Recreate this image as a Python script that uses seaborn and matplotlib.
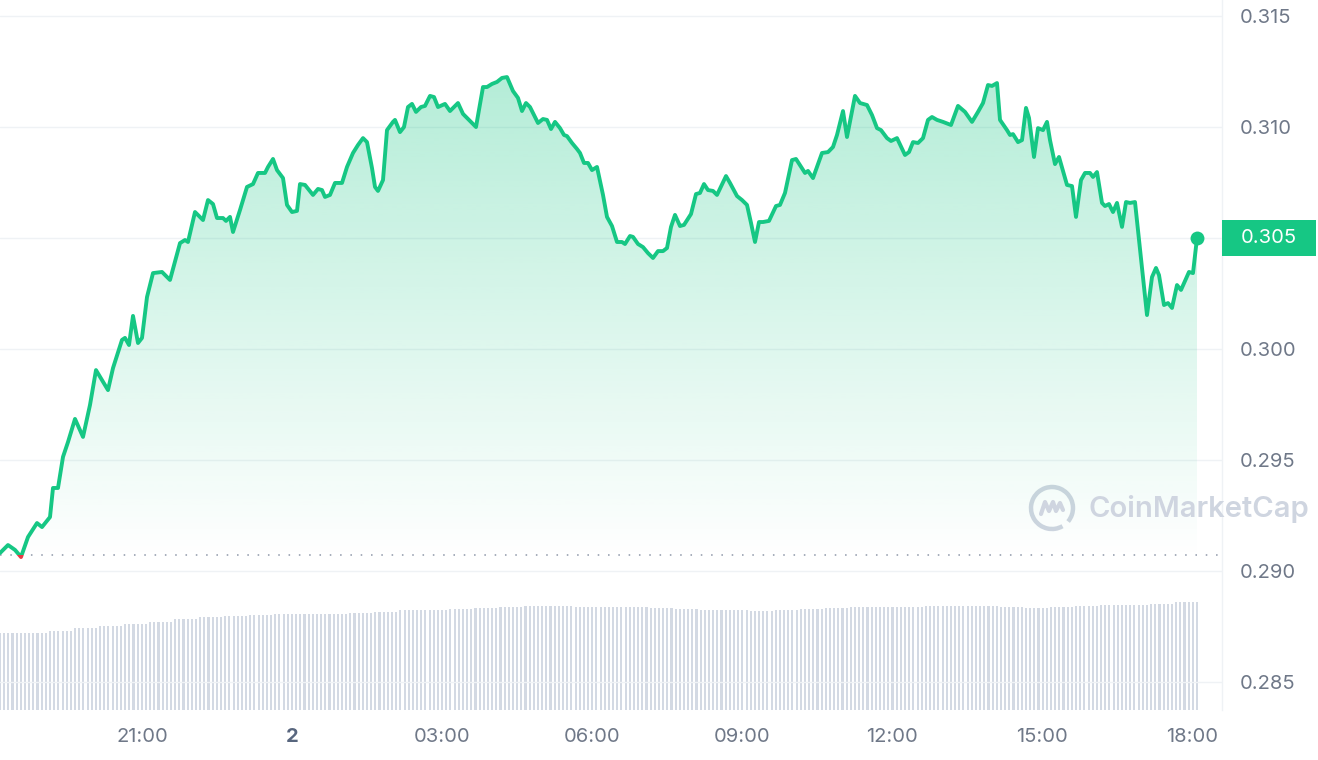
import numpy as np
import matplotlib
matplotlib.use("Agg")
import matplotlib.pyplot as plt
import matplotlib.transforms as mtransforms
from matplotlib.patches import Rectangle, Arc
import seaborn as sns

# ---------------- data ----------------
# time in hours relative to 00:00 on day "2"
times = [
    -5.84, -5.68, -5.54, -5.42, -5.28, -5.10, -5.00, -4.84, -4.78, -4.68,
    -4.58, -4.48, -4.34, -4.18, -4.04, -3.92, -3.68, -3.58, -3.40, -3.34,
    -3.26, -3.18, -3.08, -3.00, -2.90, -2.78, -2.60, -2.44, -2.24, -2.14,
    -2.08, -1.94, -1.78, -1.68, -1.58, -1.50, -1.38, -1.32, -1.24, -1.18,
    -1.04, -0.90, -0.78, -0.68, -0.54, -0.48, -0.38, -0.30, -0.18, -0.10,
    0.00, 0.10, 0.16, 0.26, 0.42, 0.52, 0.60, 0.66, 0.76, 0.86,
    1.00, 1.10, 1.22, 1.32, 1.42, 1.50, 1.60, 1.66, 1.72, 1.82,
    1.90, 2.02, 2.06, 2.16, 2.24, 2.32, 2.40, 2.48, 2.58, 2.66,
    2.76, 2.84, 2.92, 3.06, 3.16, 3.32, 3.42, 3.56, 3.68, 3.82,
    3.90, 4.00, 4.10, 4.20, 4.30, 4.42, 4.52, 4.60, 4.68, 4.76,
    4.92, 5.02, 5.10, 5.18, 5.26, 5.36, 5.44, 5.50, 5.60, 5.70,
    5.76, 5.84, 5.92, 6.00, 6.10, 6.22, 6.30, 6.40, 6.50, 6.60,
    6.66, 6.76, 6.82, 6.92, 7.02, 7.12, 7.22, 7.32, 7.42, 7.50,
    7.58, 7.66, 7.76, 7.84, 7.98, 8.08, 8.16, 8.24, 8.32, 8.42,
    8.50, 8.68, 8.76, 8.90, 9.00, 9.10, 9.18, 9.26, 9.34, 9.42,
    9.54, 9.68, 9.76, 9.86, 10.00, 10.08, 10.26, 10.32, 10.42, 10.60,
    10.72, 10.82, 10.90, 11.02, 11.10, 11.26, 11.36, 11.50, 11.60, 11.70,
    11.78, 11.90, 11.98, 12.10, 12.26, 12.34, 12.42, 12.52, 12.62, 12.72,
    12.80, 12.90, 13.02, 13.18, 13.32, 13.46, 13.60, 13.72, 13.82, 13.92,
    14.00, 14.10, 14.16, 14.30, 14.36, 14.42, 14.52, 14.60, 14.68, 14.74,
    14.84, 14.92, 15.02, 15.10, 15.16, 15.26, 15.34, 15.50, 15.60, 15.68,
    15.78, 15.86, 15.96, 16.02, 16.10, 16.20, 16.26, 16.34, 16.42, 16.50,
    16.60, 16.68, 16.76, 16.86, 17.10, 17.20, 17.28, 17.34, 17.44, 17.52,
    17.60, 17.70, 17.78, 17.94, 18.02, 18.10,
]
prices = [
    0.29081, 0.29117, 0.29095, 0.29063, 0.29153, 0.29216, 0.29198, 0.29243, 0.29374, 0.29374,
    0.29514, 0.29581, 0.29685, 0.29604, 0.29748, 0.29905, 0.29815, 0.29914, 0.30041, 0.30050,
    0.30018, 0.30149, 0.30027, 0.30050, 0.30234, 0.30342, 0.30347, 0.30311, 0.30477, 0.30491,
    0.30482, 0.30617, 0.30581, 0.30671, 0.30653, 0.30590, 0.30590, 0.30577, 0.30595, 0.30527,
    0.30626, 0.30730, 0.30743, 0.30793, 0.30793, 0.30820, 0.30856, 0.30806, 0.30770, 0.30649,
    0.30617, 0.30622, 0.30743, 0.30739, 0.30694, 0.30721, 0.30716, 0.30685, 0.30694, 0.30748,
    0.30748, 0.30820, 0.30883, 0.30919, 0.30950, 0.30932, 0.30815, 0.30730, 0.30712, 0.30761,
    0.30986, 0.31023, 0.31032, 0.30977, 0.31000, 0.31090, 0.31104, 0.31068, 0.31090, 0.31095,
    0.31140, 0.31135, 0.31090, 0.31104, 0.31072, 0.31108, 0.31059, 0.31027, 0.31000, 0.31180,
    0.31180, 0.31194, 0.31203, 0.31221, 0.31225, 0.31162, 0.31131, 0.31072, 0.31108, 0.31090,
    0.31018, 0.31036, 0.31032, 0.30991, 0.31023, 0.30995, 0.30964, 0.30959, 0.30928, 0.30901,
    0.30883, 0.30838, 0.30838, 0.30806, 0.30820, 0.30694, 0.30595, 0.30554, 0.30482, 0.30482,
    0.30473, 0.30509, 0.30505, 0.30473, 0.30459, 0.30432, 0.30410, 0.30441, 0.30441, 0.30455,
    0.30550, 0.30604, 0.30554, 0.30559, 0.30608, 0.30698, 0.30703, 0.30743, 0.30716, 0.30712,
    0.30694, 0.30779, 0.30748, 0.30689, 0.30671, 0.30649, 0.30568, 0.30482, 0.30572, 0.30572,
    0.30577, 0.30644, 0.30649, 0.30703, 0.30851, 0.30856, 0.30793, 0.30802, 0.30770, 0.30883,
    0.30887, 0.30910, 0.30964, 0.31072, 0.30955, 0.31140, 0.31108, 0.31099, 0.31054, 0.30995,
    0.30986, 0.30950, 0.30937, 0.30950, 0.30874, 0.30887, 0.30932, 0.30928, 0.30950, 0.31032,
    0.31045, 0.31032, 0.31023, 0.31009, 0.31095, 0.31068, 0.31023, 0.31068, 0.31108, 0.31189,
    0.31185, 0.31198, 0.31032, 0.30986, 0.30964, 0.30968, 0.30932, 0.30941, 0.31086, 0.31041,
    0.30865, 0.30995, 0.30986, 0.31023, 0.30941, 0.30833, 0.30865, 0.30739, 0.30734, 0.30595,
    0.30761, 0.30793, 0.30793, 0.30775, 0.30797, 0.30658, 0.30644, 0.30653, 0.30617, 0.30658,
    0.30550, 0.30662, 0.30658, 0.30662, 0.30153, 0.30324, 0.30365, 0.30333, 0.30198, 0.30207,
    0.30185, 0.30288, 0.30266, 0.30347, 0.30342, 0.30500,
]
open_price = 0.29072
last_price_label = "0.305"

# 24h volume (millions), one value per 30 minutes (each covers six 5-minute bars)
volume_30min = [
    154, 154, 158, 164, 168, 172, 176, 182, 186, 188, 190, 192,
    192, 192, 194, 196, 200, 200, 202, 204, 206, 208, 208, 206,
    206, 206, 204, 202, 200, 200, 198, 200, 202, 204, 206, 206,
    206, 208, 208, 208, 206, 204, 206, 208, 210, 210, 212, 216,
]

y_ticks = [0.285, 0.290, 0.295, 0.300, 0.305, 0.310, 0.315]
y_tick_labels = ["0.285", "0.290", "0.295", "0.300", "", "0.310", "0.315"]
x_ticks = [-3, 0, 3, 6, 9, 12, 15, 18]
x_tick_labels = ["21:00", "2", "03:00", "06:00", "09:00", "12:00", "15:00", "18:00"]

# ---------------- style ----------------
GREEN = "#16c784"
RED = "#ea3943"
GRID = "#eff2f5"
LABEL = "#6f7888"
VOL = "#d3d9e3"

sns.set_theme(style="white")
plt.rcParams["font.family"] = ["Inter", "DejaVu Sans"]

W, H, DPI = 1318, 760, 100
fig = plt.figure(figsize=(W / DPI, H / DPI), dpi=DPI)
fig.patch.set_facecolor("white")

ax_left, ax_right = 0.0, 1222 / W
ax_bottom, ax_top = 1 - 710 / H, 1.0
pos = [ax_left, ax_bottom, ax_right - ax_left, ax_top - ax_bottom]

xlim = (-5.84, 18.60)
ylim = (0.283739, 0.315721)

# volume axes (behind)
axv = fig.add_axes(pos, zorder=0)
n_bars = len(volume_30min) * 6
bar_t = np.linspace(times[0], times[-1], n_bars)
bar_v = np.repeat(volume_30min, 6)
axv.bar(bar_t, bar_v, width=0.042, color=VOL, linewidth=0, align="center")
axv.set_xlim(*xlim)
axv.set_ylim(0, 1420)
axv.axis("off")

# price axes
ax = fig.add_axes(pos, zorder=1)
ax.patch.set_alpha(0)
ax.set_xlim(*xlim)
ax.set_ylim(*ylim)

# grid lines
for yv in y_ticks:
    ax.axhline(yv, color=GRID, lw=1.0, zorder=0.5)

t = np.asarray(times)
p = np.asarray(prices)

# gradient fill under the line
poly = ax.fill_between(t, p, open_price - 0.0002, color="none", lw=0)
g_lo, g_hi = open_price - 0.0002, max(prices)
alpha = np.linspace(0.0, 0.32, 256)
rgba = np.zeros((256, 1, 4))
rgba[..., :3] = matplotlib.colors.to_rgb(GREEN)
rgba[:, 0, 3] = alpha
im = ax.imshow(rgba, extent=[t[0], t[-1], g_lo, g_hi], origin="lower",
               aspect="auto", zorder=1, interpolation="bilinear")
im.set_clip_path(poly.get_paths()[0], transform=ax.transData)
ax.set_xlim(*xlim)
ax.set_ylim(*ylim)

# dotted open-price line
ax.axhline(open_price, color="#a6adbb", lw=1.4, linestyle=(0, (0.8, 4.5)), zorder=1.5)

# price line: green above open, red below
sns.lineplot(x=t, y=p, ax=ax, sort=False, estimator=None, color=GREEN, linewidth=2.8, zorder=3)
green_line = ax.lines[-1]
green_line.set_solid_capstyle("round")
green_line.set_solid_joinstyle("round")
clip_up = Rectangle((xlim[0], open_price), xlim[1] - xlim[0], ylim[1] - open_price,
                    transform=ax.transData)
green_line.set_clip_path(clip_up)

sns.lineplot(x=t, y=p, ax=ax, sort=False, estimator=None, color=RED, linewidth=2.8, zorder=3)
red_line = ax.lines[-1]
clip_dn = Rectangle((xlim[0], ylim[0]), xlim[1] - xlim[0], open_price - ylim[0],
                    transform=ax.transData)
red_line.set_clip_path(clip_dn)

# last price dot
ax.scatter([t[-1]], [p[-1]], s=100, color=GREEN, zorder=4, linewidths=0)

# axes styling
for side in ["top", "left", "bottom"]:
    ax.spines[side].set_visible(False)
ax.spines["right"].set_color(GRID)
ax.spines["right"].set_linewidth(1.0)

ax.yaxis.tick_right()
ax.set_yticks(y_ticks)
ax.set_yticklabels(y_tick_labels)
ax.set_xticks(x_ticks)
ax.set_xticklabels(x_tick_labels)
ax.tick_params(axis="y", length=0, pad=13, labelsize=14.5, labelcolor=LABEL)
ax.tick_params(axis="x", length=0, pad=13, labelsize=14.5, labelcolor=LABEL)
for lbl in ax.get_xticklabels():
    if lbl.get_text() == "2":
        lbl.set_fontweight("bold")
        lbl.set_color("#58667e")
ax.set_xlabel("")
ax.set_ylabel("")

# current price badge
blend = mtransforms.blended_transform_factory(ax.transAxes, ax.transData)
badge_h = 36 / 710 * (ylim[1] - ylim[0])
badge = Rectangle((1.0, p[-1] - badge_h / 2), 94 / 1222, badge_h, transform=blend,
                  facecolor=GREEN, edgecolor="none", clip_on=False, zorder=5)
ax.add_patch(badge)
ax.text(1.0 + 47 / 1222, p[-1], last_price_label, transform=blend, ha="center", va="center",
        color="white", fontsize=14.5, zorder=6, clip_on=False)

# watermark
fig.text(1088 / W, 1 - 509 / H, "CoinMarketCap", fontsize=21, fontweight="semibold",
         color="#cfd5e0", ha="left", va="center", zorder=2)
logo_cx, logo_cy = 1052, H - 508
arc = Arc((logo_cx, logo_cy), 42, 42, theta1=-40, theta2=300, transform=None,
          color="#cfd5e0", lw=3.2)
fig.add_artist(arc)
mx = np.array([-11, -7, -3, 1, 4, 8, 11]) + logo_cx
my = np.array([-6, 6, -3, 6, -3, 5, -2]) + logo_cy
fig.add_artist(matplotlib.lines.Line2D(mx, my, transform=None, color="#cfd5e0", lw=3.0,
                                       solid_joinstyle="round", solid_capstyle="round"))

fig.savefig("out.png", dpi=DPI, facecolor="white")
